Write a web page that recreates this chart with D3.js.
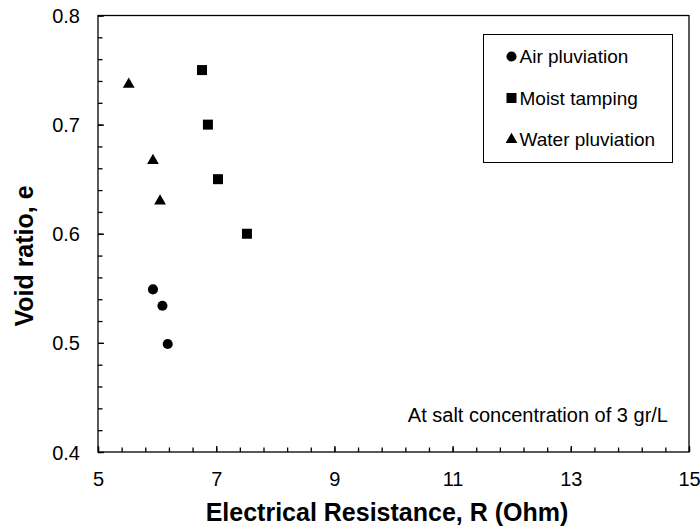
<!DOCTYPE html>
<meta charset="utf-8">
<style>

body {
  margin: 0;
  background: #fff;
}

text {
  font-family: Arial, "Liberation Sans", sans-serif;
  fill: #000;
}

.axis path,
.axis line {
  stroke: #000;
  stroke-width: 1.3px;
}

.axis text {
  font-size: 20px;
}

.title {
  font-size: 25px;
  font-weight: bold;
}

</style>
<body>
<script src="https://cdn.jsdelivr.net/npm/d3@7"></script>
<script>

var w = 700,
    h = 530,
    margin = {top: 15.5, right: 11, bottom: 78, left: 98},
    width = w - margin.left - margin.right,
    height = h - margin.top - margin.bottom;

// resistance R (Ohm) and void ratio e, per preparation method
var airR = [5.93, 6.09, 6.18],
    airE = [0.549, 0.534, 0.499];

var moistR = [6.76, 6.86, 7.03, 7.52],
    moistE = [0.75, 0.70, 0.65, 0.60];

var waterR = [5.52, 5.93, 6.05],
    waterE = [0.737, 0.667, 0.630];

var xTicks = [5, 7, 9, 11, 13, 15],
    yTicks = [0.4, 0.5, 0.6, 0.7, 0.8];

var series = [
  {name: "Air pluviation", r: airR, e: airE, symbol: d3.symbolCircle, size: 80},
  {name: "Moist tamping", r: moistR, e: moistE, symbol: d3.symbolSquare, size: 100},
  {name: "Water pluviation", r: waterR, e: waterE, symbol: d3.symbolTriangle, size: 60}
];

var x = d3.scaleLinear().domain([5, 15]).range([0, width]),
    y = d3.scaleLinear().domain([0.4, 0.8]).range([height, 0]);

var svg = d3.select("body").append("svg")
    .attr("width", w)
    .attr("height", h)
  .append("g")
    .attr("transform", "translate(" + margin.left + "," + margin.top + ")");

// plot frame
svg.append("rect")
    .attr("width", width)
    .attr("height", height)
    .style("fill", "none")
    .style("stroke", "#000")
    .style("stroke-width", "1.3px");

// minor ticks
svg.append("g")
    .attr("class", "axis")
    .attr("transform", "translate(0," + height + ")")
    .call(d3.axisBottom(x).tickValues(d3.range(5, 15.01, 0.4)).tickSize(-4.5).tickFormat(""))
    .call(function(g) { g.select(".domain").remove(); });

svg.append("g")
    .attr("class", "axis")
    .call(d3.axisLeft(y).tickValues(d3.range(0.4, 0.801, 0.02)).tickSize(-4.5).tickFormat(""))
    .call(function(g) { g.select(".domain").remove(); });

// major ticks and labels
svg.append("g")
    .attr("class", "axis")
    .attr("transform", "translate(0," + height + ")")
    .call(d3.axisBottom(x).tickValues(xTicks).tickSizeInner(-6).tickSizeOuter(0).tickPadding(20))
    .call(function(g) { g.select(".domain").remove(); });

svg.append("g")
    .attr("class", "axis")
    .call(d3.axisLeft(y).tickValues(yTicks).tickSizeInner(-6).tickSizeOuter(0).tickPadding(18).tickFormat(d3.format(".1f")))
    .call(function(g) { g.select(".domain").remove(); })
    .selectAll("text")
    .attr("dy", "0.35em");

// points
svg.selectAll(".series")
    .data(series)
  .enter().append("g")
    .attr("class", "series")
    .each(function(s) {
      d3.select(this).selectAll("path")
          .data(s.r.map(function(r, i) { return [r, s.e[i]]; }))
        .enter().append("path")
          .attr("d", d3.symbol().type(s.symbol).size(s.size))
          .attr("transform", function(d) { return "translate(" + x(d[0]) + "," + y(d[1]) + ")"; })
          .style("fill", "#000");
    });

// legend
var legend = svg.append("g")
    .attr("transform", "translate(" + (483.5 - margin.left) + "," + (34.5 - margin.top) + ")");

legend.append("rect")
    .attr("width", 189)
    .attr("height", 128)
    .style("fill", "#fff")
    .style("stroke", "#000")
    .style("stroke-width", "1px");

var item = legend.selectAll(".item")
    .data(series)
  .enter().append("g")
    .attr("class", "item")
    .attr("transform", function(d, i) { return "translate(28," + (22 + i * 41.5) + ")"; });

item.append("path")
    .attr("d", function(d) { return d3.symbol().type(d.symbol).size(d.size)(); })
    .style("fill", "#000");

item.append("text")
    .attr("x", 8)
    .attr("dy", "0.35em")
    .style("font-size", "19px")
    .text(function(d) { return d.name; });

// note
svg.append("text")
    .attr("x", 668 - margin.left)
    .attr("y", 422 - margin.top)
    .attr("text-anchor", "end")
    .style("font-size", "20px")
    .text("At salt concentration of 3 gr/L");

// axis titles
svg.append("text")
    .attr("class", "title")
    .attr("x", 387 - margin.left)
    .attr("y", 521 - margin.top)
    .attr("text-anchor", "middle")
    .text("Electrical Resistance, R (Ohm)");

svg.append("text")
    .attr("class", "title")
    .attr("transform", "translate(" + (33 - margin.left) + "," + (256 - margin.top) + ")rotate(-90)")
    .attr("text-anchor", "middle")
    .text("Void ratio, e");

</script>
</body>
